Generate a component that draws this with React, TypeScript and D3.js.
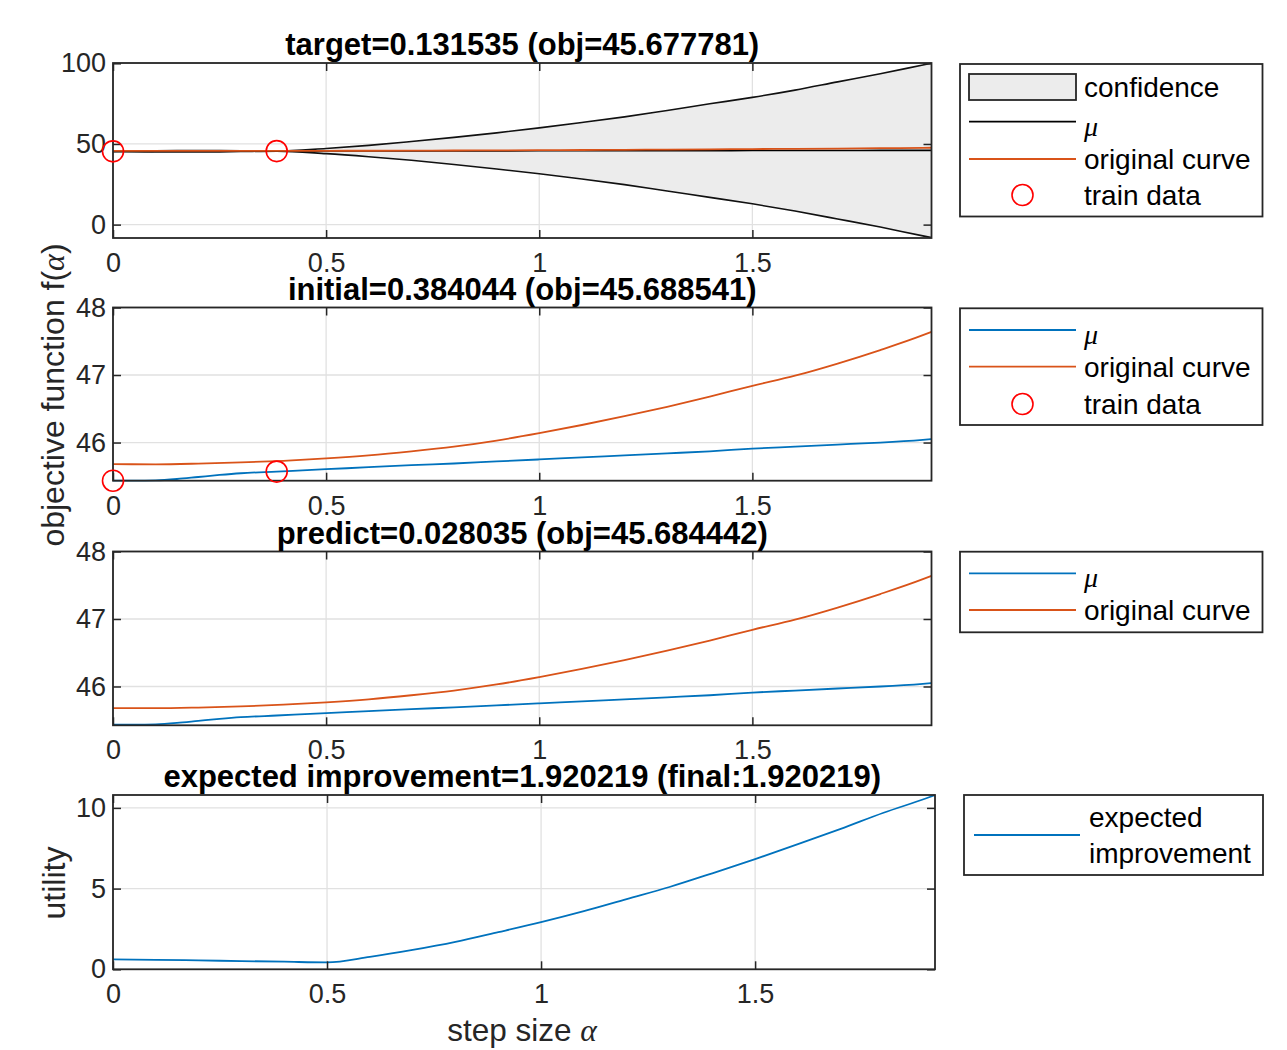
import React, { useEffect, useRef } from 'react'
import * as d3 from 'd3'

// step size range shown on every panel
const xMax = 1.920219
const xTickVals = [0, 0.5, 1, 1.5]

// GP mean (mu)
const muX = [0, 0.05, 0.1, 0.15, 0.2, 0.25, 0.3, 0.384044, 0.5, 0.6, 0.7, 0.8, 0.9, 1.0, 1.1, 1.2, 1.3, 1.4, 1.5, 1.6, 1.7, 1.8, 1.9, 1.920219]
const muY = [45.435, 45.435, 45.44, 45.46, 45.49, 45.52, 45.545, 45.57, 45.605, 45.635, 45.665, 45.69, 45.72, 45.75, 45.78, 45.81, 45.84, 45.87, 45.91, 45.94, 45.97, 46.0, 46.04, 46.05]

// confidence band (same x as mu)
const confUpper = [45.435, 45.735, 45.84, 45.91, 45.94, 45.92, 45.795, 45.57, 47.2, 49.1, 51.5, 54.1, 56.9, 60.0, 63.3, 66.8, 70.8, 74.9, 78.9, 83.4, 88.5, 93.5, 99.0, 100.1]
const confLower = [45.435, 45.135, 45.04, 45.01, 45.04, 45.12, 45.295, 45.57, 44.0, 42.1, 39.9, 37.3, 34.5, 31.5, 28.3, 24.8, 20.8, 16.9, 12.9, 8.4, 3.5, -1.5, -7.0, -8.05]

// original objective curve
const origX = [0, 0.1, 0.2, 0.3, 0.4, 0.5, 0.6, 0.7, 0.8, 0.9, 1.0, 1.1, 1.2, 1.3, 1.4, 1.5, 1.6, 1.7, 1.8, 1.9, 1.920219]
const origY = [45.68, 45.678, 45.688, 45.705, 45.73, 45.765, 45.81, 45.87, 45.94, 46.03, 46.14, 46.26, 46.39, 46.53, 46.68, 46.84, 46.99, 47.17, 47.37, 47.59, 47.64]

// training points
const trainX = [0, 0.384044]
const trainY = [45.435, 45.57]

// expected improvement utility
const eiX = [0, 0.1, 0.2, 0.3, 0.4, 0.5, 0.6, 0.7, 0.8, 0.9, 1.0, 1.1, 1.2, 1.3, 1.4, 1.5, 1.6, 1.7, 1.8, 1.9, 1.920219]
const eiY = [0.62, 0.59, 0.55, 0.51, 0.47, 0.43, 0.77, 1.2, 1.7, 2.3, 2.92, 3.6, 4.35, 5.1, 5.95, 6.83, 7.75, 8.7, 9.7, 10.6, 10.8]

const titles = [
  'target=0.131535 (obj=45.677781)',
  'initial=0.384044 (obj=45.688541)',
  'predict=0.028035 (obj=45.684442)',
  'expected improvement=1.920219 (final:1.920219)',
]

const BLUE = '#0072BD'
const ORANGE = '#D95319'
const AX = '#262626'
const GRID = '#e1e1e1'
const FONT = '"Liberation Sans", Arial, Helvetica, sans-serif'
const SERIF = '"Liberation Serif", "DejaVu Serif", serif'

const pts = (xs: number[], ys: number[]) => xs.map((v, i) => [v, ys[i]] as [number, number])

function App() {
  const ref = useRef<SVGSVGElement>(null)

  useEffect(() => {
    const svg = d3.select(ref.current)
    svg.selectAll('*').remove()

    const panels = [
      { top: 63, bottom: 238, left: 113, right: 931.5, y: [-8.3, 100.2], yt: [0, 50, 100] },
      { top: 307.5, bottom: 480.7, left: 113, right: 931.5, y: [45.435, 48], yt: [46, 47, 48] },
      { top: 551.5, bottom: 725.3, left: 113, right: 931.5, y: [45.425, 48], yt: [46, 47, 48] },
      { top: 795, bottom: 969.3, left: 113, right: 935, y: [0, 10.8], yt: [0, 5, 10] },
    ]

    panels.forEach((p, idx) => {
      const x = d3.scaleLinear().domain([0, xMax]).range([p.left, p.right])
      const y = d3.scaleLinear().domain(p.y).range([p.bottom, p.top])
      const g = svg.append('g')
      const line = d3.line<[number, number]>().x(d => x(d[0])).y(d => y(d[1])).curve(d3.curveMonotoneX)

      g.append('rect')
        .attr('x', p.left).attr('y', p.top)
        .attr('width', p.right - p.left).attr('height', p.bottom - p.top)
        .attr('fill', '#fff')

      // grid
      xTickVals.forEach(t => {
        g.append('line')
          .attr('x1', x(t)).attr('x2', x(t)).attr('y1', p.top).attr('y2', p.bottom)
          .attr('stroke', GRID).attr('stroke-width', 1.3)
      })
      p.yt.forEach(t => {
        g.append('line')
          .attr('x1', p.left).attr('x2', p.right).attr('y1', y(t)).attr('y2', y(t))
          .attr('stroke', GRID).attr('stroke-width', 1.3)
      })

      const clipId = 'clip' + idx
      svg.append('clipPath').attr('id', clipId)
        .append('rect')
        .attr('x', p.left).attr('y', p.top - 1)
        .attr('width', p.right - p.left).attr('height', p.bottom - p.top + 2)
      const dg = g.append('g').attr('clip-path', `url(#${clipId})`)

      if (idx === 0) {
        const area = d3.area<number>()
          .x((_, i) => x(muX[i]))
          .y0((_, i) => y(confLower[i]))
          .y1((_, i) => y(confUpper[i]))
          .curve(d3.curveMonotoneX)
        dg.append('path').attr('d', area(confUpper) || '').attr('fill', '#ececec')
        dg.append('path').attr('d', line(pts(muX, confUpper)) || '').attr('fill', 'none').attr('stroke', '#111').attr('stroke-width', 1.6)
        dg.append('path').attr('d', line(pts(muX, confLower)) || '').attr('fill', 'none').attr('stroke', '#111').attr('stroke-width', 1.6)
        dg.append('path').attr('d', line(pts(muX, muY)) || '').attr('fill', 'none').attr('stroke', '#000').attr('stroke-width', 1.6)
        dg.append('path').attr('d', line(pts(origX, origY)) || '').attr('fill', 'none').attr('stroke', ORANGE).attr('stroke-width', 1.8)
      } else if (idx < 3) {
        dg.append('path').attr('d', line(pts(muX, muY)) || '').attr('fill', 'none').attr('stroke', BLUE).attr('stroke-width', 1.8)
        dg.append('path').attr('d', line(pts(origX, origY)) || '').attr('fill', 'none').attr('stroke', ORANGE).attr('stroke-width', 1.8)
      } else {
        dg.append('path').attr('d', line(pts(eiX, eiY)) || '').attr('fill', 'none').attr('stroke', BLUE).attr('stroke-width', 1.8)
      }

      // axes: ticks point inward on all four sides
      const styleAxis = (a: any, labels: boolean) => {
        a.select('.domain').remove()
        a.selectAll('.tick line').attr('stroke', AX).attr('stroke-width', 1.5)
        a.selectAll('.tick text')
          .attr('fill', AX)
          .style('font-family', FONT)
          .style('font-size', '27px')
        if (!labels) a.selectAll('.tick text').remove()
      }
      const fmt = (d: any) => String(d)
      styleAxis(g.append('g').attr('transform', `translate(0,${p.bottom})`)
        .call(d3.axisBottom(x).tickValues(xTickVals).tickSize(-8).tickPadding(15).tickFormat(fmt)), true)
      styleAxis(g.append('g').attr('transform', `translate(0,${p.top})`)
        .call(d3.axisTop(x).tickValues(xTickVals).tickSize(-8).tickFormat(() => '')), false)
      styleAxis(g.append('g').attr('transform', `translate(${p.left},0)`)
        .call(d3.axisLeft(y).tickValues(p.yt).tickSize(-8).tickPadding(7).tickFormat(fmt)), true)
      styleAxis(g.append('g').attr('transform', `translate(${p.right},0)`)
        .call(d3.axisRight(y).tickValues(p.yt).tickSize(-8).tickFormat(() => '')), false)

      g.append('rect')
        .attr('x', p.left).attr('y', p.top)
        .attr('width', p.right - p.left).attr('height', p.bottom - p.top)
        .attr('fill', 'none').attr('stroke', AX).attr('stroke-width', 1.8)

      // train data markers (not clipped)
      if (idx < 2) {
        trainX.forEach((tx, i) => {
          g.append('circle')
            .attr('cx', x(tx)).attr('cy', y(trainY[i])).attr('r', 10.5)
            .attr('fill', 'none').attr('stroke', '#ff0000').attr('stroke-width', 1.6)
        })
      }

      g.append('text')
        .attr('x', (p.left + 931.5) / 2).attr('y', p.top - 8)
        .attr('text-anchor', 'middle')
        .style('font-family', FONT).style('font-size', '31px').style('font-weight', 'bold')
        .attr('fill', '#000')
        .text(titles[idx])
    })

    // axis labels
    const yl = svg.append('text')
      .attr('transform', 'translate(64,395) rotate(-90)')
      .attr('text-anchor', 'middle')
      .style('font-family', FONT).style('font-size', '32px').attr('fill', AX)
    yl.append('tspan').text('objective function f(')
    yl.append('tspan').style('font-family', SERIF).style('font-style', 'italic').text('\u03b1')
    yl.append('tspan').text(')')

    svg.append('text')
      .attr('transform', 'translate(65,883) rotate(-90)')
      .attr('text-anchor', 'middle')
      .style('font-family', FONT).style('font-size', '32px').attr('fill', AX)
      .text('utility')

    const xl = svg.append('text')
      .attr('x', 522).attr('y', 1041)
      .attr('text-anchor', 'middle')
      .style('font-family', FONT).style('font-size', '31.5px').attr('fill', AX)
    xl.append('tspan').text('step size ')
    xl.append('tspan').style('font-family', SERIF).style('font-style', 'italic').text('\u03b1')

    // legends
    type Entry = { kind: string, color: string, label: string, y: number }
    const legend = (box: number[], entries: Entry[], lx0 = 969, lx1 = 1076, tx = 1084) => {
      const lg = svg.append('g')
      lg.append('rect')
        .attr('x', box[0]).attr('y', box[1]).attr('width', box[2] - box[0]).attr('height', box[3] - box[1])
        .attr('fill', '#fff').attr('stroke', AX).attr('stroke-width', 1.8)
      entries.forEach(e => {
        if (e.kind === 'patch') {
          lg.append('rect').attr('x', lx0).attr('y', e.y - 13).attr('width', lx1 - lx0).attr('height', 26)
            .attr('fill', '#ececec').attr('stroke', AX).attr('stroke-width', 1.8)
        } else if (e.kind === 'line') {
          lg.append('line').attr('x1', lx0).attr('x2', lx1).attr('y1', e.y).attr('y2', e.y)
            .attr('stroke', e.color).attr('stroke-width', 1.8)
        } else {
          lg.append('circle').attr('cx', (lx0 + lx1) / 2).attr('cy', e.y).attr('r', 10.5)
            .attr('fill', 'none').attr('stroke', e.color).attr('stroke-width', 1.6)
        }
        if (e.label === 'mu') {
          lg.append('text').attr('x', tx).attr('y', e.y + 14)
            .style('font-family', SERIF).style('font-style', 'italic').style('font-size', '28px')
            .attr('fill', '#000').text('\u03bc')
        } else {
          const lines = e.label.split('\n')
          lines.forEach((s, k) => {
            lg.append('text').attr('x', tx).attr('y', e.y + 10 + (k - (lines.length - 1) / 2) * 36)
              .style('font-family', FONT).style('font-size', '28px').attr('fill', '#000').text(s)
          })
        }
      })
    }

    legend([960, 64, 1262.5, 216.5], [
      { kind: 'patch', color: '#ececec', label: 'confidence', y: 87 },
      { kind: 'line', color: '#000', label: 'mu', y: 121.7 },
      { kind: 'line', color: ORANGE, label: 'original curve', y: 159 },
      { kind: 'marker', color: '#ff0000', label: 'train data', y: 195 },
    ])
    legend([960, 308.3, 1262.5, 425], [
      { kind: 'line', color: BLUE, label: 'mu', y: 330 },
      { kind: 'line', color: ORANGE, label: 'original curve', y: 366.7 },
      { kind: 'marker', color: '#ff0000', label: 'train data', y: 404 },
    ])
    legend([960, 551.7, 1262.5, 632.3], [
      { kind: 'line', color: BLUE, label: 'mu', y: 573.3 },
      { kind: 'line', color: ORANGE, label: 'original curve', y: 610 },
    ])
    legend([964, 795, 1263, 875], [
      { kind: 'line', color: BLUE, label: 'expected\nimprovement', y: 835 },
    ], 974, 1080, 1089)
  }, [])

  return (
    <svg ref={ref} width={1287} height={1050}
      style={{ position: 'absolute', left: 0, top: 0, background: '#fff' }} />
  )
}

export default App
